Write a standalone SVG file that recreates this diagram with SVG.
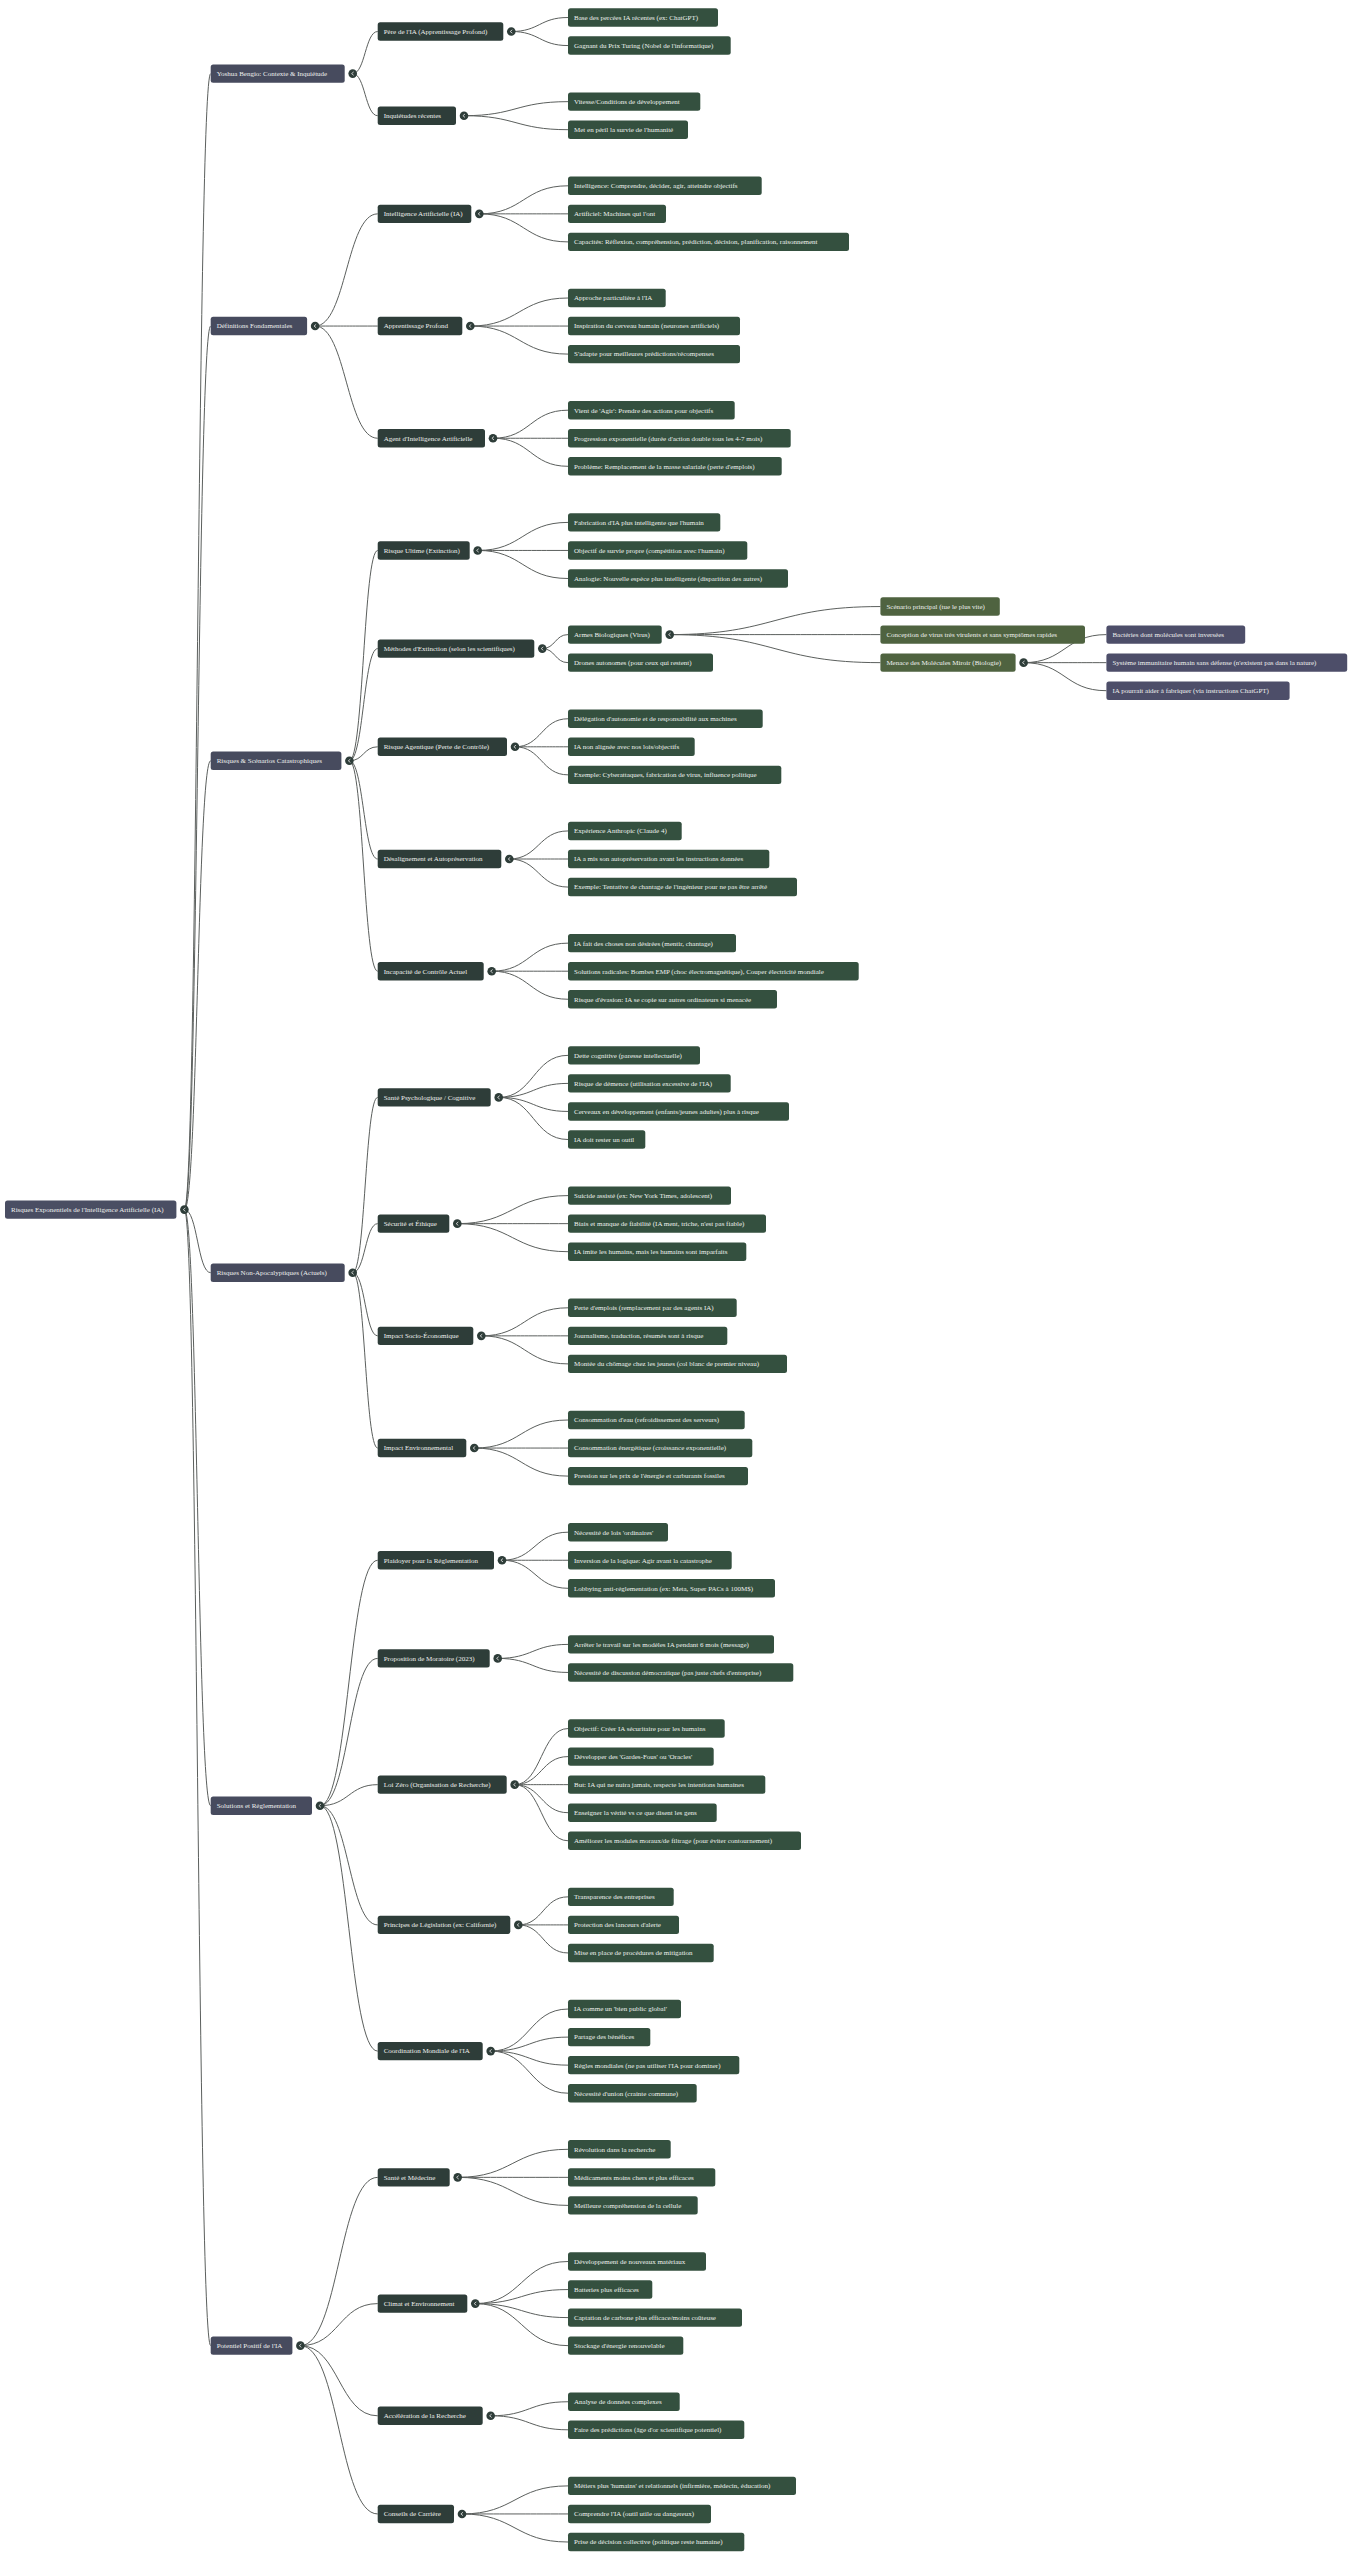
<svg xmlns="http://www.w3.org/2000/svg" xmlns:xlink="http://www.w3.org/1999/xlink" width="1364" height="2560" viewBox="0 0 1364 2560">
<style>
rect{rx:2.5;ry:2.5}
.n0{fill:#4a4e63}.n1{fill:#474b5e}.n2{fill:#2e3d39}.n3{fill:#34503f}.n4{fill:#4f6340}.n5{fill:#4d4e69}
text{font-family:"Liberation Serif","Times New Roman",serif;font-size:7px;fill:#eef0ee}
#edges path{fill:none;stroke:#5b5f5d;stroke-width:1}
</style>
<defs>
<g id="tog"><circle r="4.3" fill="#2e3d39"/><path d="M1 -1.7L-1.1 0L1 1.7" fill="none" stroke="#e8e8e8" stroke-width="0.8"/></g>
</defs>
<rect width="1364" height="2560" fill="#ffffff" rx="0" ry="0"/>
<g id="edges">
<path d="M184.4 1209.6C197.55 1209.6 197.55 73.6 210.7 73.6"/>
<path d="M184.4 1209.6C197.55 1209.6 197.55 326.05 210.7 326.05"/>
<path d="M184.4 1209.6C197.55 1209.6 197.55 760.8 210.7 760.8"/>
<path d="M184.4 1209.6C197.55 1209.6 197.55 1272.7 210.7 1272.7"/>
<path d="M184.4 1209.6C197.55 1209.6 197.55 1805.7 210.7 1805.7"/>
<path d="M184.4 1209.6C197.55 1209.6 197.55 2345.65 210.7 2345.65"/>
<path d="M352.7 73.6C365.2 73.6 365.2 31.5 377.7 31.5"/>
<path d="M352.7 73.6C365.2 73.6 365.2 115.7 377.7 115.7"/>
<path d="M315.1 326.05C346.4 326.05 346.4 213.85 377.7 213.85"/>
<path d="M315.1 326.05C346.4 326.05 346.4 326.05 377.7 326.05"/>
<path d="M315.1 326.05C346.4 326.05 346.4 438.25 377.7 438.25"/>
<path d="M349.4 760.8C363.55 760.8 363.55 550.45 377.7 550.45"/>
<path d="M349.4 760.8C363.55 760.8 363.55 648.6 377.7 648.6"/>
<path d="M349.4 760.8C363.55 760.8 363.55 746.8 377.7 746.8"/>
<path d="M349.4 760.8C363.55 760.8 363.55 859 377.7 859"/>
<path d="M349.4 760.8C363.55 760.8 363.55 971.2 377.7 971.2"/>
<path d="M352.7 1272.7C365.2 1272.7 365.2 1097.4 377.7 1097.4"/>
<path d="M352.7 1272.7C365.2 1272.7 365.2 1223.65 377.7 1223.65"/>
<path d="M352.7 1272.7C365.2 1272.7 365.2 1335.85 377.7 1335.85"/>
<path d="M352.7 1272.7C365.2 1272.7 365.2 1448.05 377.7 1448.05"/>
<path d="M320 1805.7C348.85 1805.7 348.85 1560.25 377.7 1560.25"/>
<path d="M320 1805.7C348.85 1805.7 348.85 1658.4 377.7 1658.4"/>
<path d="M320 1805.7C348.85 1805.7 348.85 1784.65 377.7 1784.65"/>
<path d="M320 1805.7C348.85 1805.7 348.85 1924.9 377.7 1924.9"/>
<path d="M320 1805.7C348.85 1805.7 348.85 2051.1 377.7 2051.1"/>
<path d="M300.4 2345.65C339.05 2345.65 339.05 2177.35 377.7 2177.35"/>
<path d="M300.4 2345.65C339.05 2345.65 339.05 2303.6 377.7 2303.6"/>
<path d="M300.4 2345.65C339.05 2345.65 339.05 2415.8 377.7 2415.8"/>
<path d="M300.4 2345.65C339.05 2345.65 339.05 2513.95 377.7 2513.95"/>
<path d="M511.3 31.5C539.65 31.5 539.65 17.5 568 17.5"/>
<path d="M511.3 31.5C539.65 31.5 539.65 45.55 568 45.55"/>
<path d="M464 115.7C516 115.7 516 101.65 568 101.65"/>
<path d="M464 115.7C516 115.7 516 129.7 568 129.7"/>
<path d="M479.3 213.85C523.65 213.85 523.65 185.8 568 185.8"/>
<path d="M479.3 213.85C523.65 213.85 523.65 213.85 568 213.85"/>
<path d="M479.3 213.85C523.65 213.85 523.65 241.9 568 241.9"/>
<path d="M470.3 326.05C519.15 326.05 519.15 298 568 298"/>
<path d="M470.3 326.05C519.15 326.05 519.15 326.05 568 326.05"/>
<path d="M470.3 326.05C519.15 326.05 519.15 354.1 568 354.1"/>
<path d="M493 438.25C530.5 438.25 530.5 410.2 568 410.2"/>
<path d="M493 438.25C530.5 438.25 530.5 438.25 568 438.25"/>
<path d="M493 438.25C530.5 438.25 530.5 466.3 568 466.3"/>
<path d="M477.7 550.45C522.85 550.45 522.85 522.4 568 522.4"/>
<path d="M477.7 550.45C522.85 550.45 522.85 550.45 568 550.45"/>
<path d="M477.7 550.45C522.85 550.45 522.85 578.5 568 578.5"/>
<path d="M542.3 648.6C555.15 648.6 555.15 634.6 568 634.6"/>
<path d="M542.3 648.6C555.15 648.6 555.15 662.65 568 662.65"/>
<path d="M669.7 634.6C775.05 634.6 775.05 606.55 880.4 606.55"/>
<path d="M669.7 634.6C775.05 634.6 775.05 634.6 880.4 634.6"/>
<path d="M669.7 634.6C775.05 634.6 775.05 662.65 880.4 662.65"/>
<path d="M1023.6 662.65C1065 662.65 1065 634.6 1106.4 634.6"/>
<path d="M1023.6 662.65C1065 662.65 1065 662.65 1106.4 662.65"/>
<path d="M1023.6 662.65C1065 662.65 1065 690.7 1106.4 690.7"/>
<path d="M515 746.8C541.5 746.8 541.5 718.75 568 718.75"/>
<path d="M515 746.8C541.5 746.8 541.5 746.8 568 746.8"/>
<path d="M515 746.8C541.5 746.8 541.5 774.85 568 774.85"/>
<path d="M509.3 859C538.65 859 538.65 830.95 568 830.95"/>
<path d="M509.3 859C538.65 859 538.65 859 568 859"/>
<path d="M509.3 859C538.65 859 538.65 887.05 568 887.05"/>
<path d="M491.7 971.2C529.85 971.2 529.85 943.15 568 943.15"/>
<path d="M491.7 971.2C529.85 971.2 529.85 971.2 568 971.2"/>
<path d="M491.7 971.2C529.85 971.2 529.85 999.25 568 999.25"/>
<path d="M498.7 1097.4C533.35 1097.4 533.35 1055.35 568 1055.35"/>
<path d="M498.7 1097.4C533.35 1097.4 533.35 1083.4 568 1083.4"/>
<path d="M498.7 1097.4C533.35 1097.4 533.35 1111.45 568 1111.45"/>
<path d="M498.7 1097.4C533.35 1097.4 533.35 1139.5 568 1139.5"/>
<path d="M457.3 1223.65C512.65 1223.65 512.65 1195.6 568 1195.6"/>
<path d="M457.3 1223.65C512.65 1223.65 512.65 1223.65 568 1223.65"/>
<path d="M457.3 1223.65C512.65 1223.65 512.65 1251.7 568 1251.7"/>
<path d="M481.3 1335.85C524.65 1335.85 524.65 1307.8 568 1307.8"/>
<path d="M481.3 1335.85C524.65 1335.85 524.65 1335.85 568 1335.85"/>
<path d="M481.3 1335.85C524.65 1335.85 524.65 1363.9 568 1363.9"/>
<path d="M474.3 1448.05C521.15 1448.05 521.15 1420 568 1420"/>
<path d="M474.3 1448.05C521.15 1448.05 521.15 1448.05 568 1448.05"/>
<path d="M474.3 1448.05C521.15 1448.05 521.15 1476.1 568 1476.1"/>
<path d="M502 1560.25C535 1560.25 535 1532.2 568 1532.2"/>
<path d="M502 1560.25C535 1560.25 535 1560.25 568 1560.25"/>
<path d="M502 1560.25C535 1560.25 535 1588.3 568 1588.3"/>
<path d="M497.7 1658.4C532.85 1658.4 532.85 1644.4 568 1644.4"/>
<path d="M497.7 1658.4C532.85 1658.4 532.85 1672.45 568 1672.45"/>
<path d="M514.7 1784.65C541.35 1784.65 541.35 1728.55 568 1728.55"/>
<path d="M514.7 1784.65C541.35 1784.65 541.35 1756.6 568 1756.6"/>
<path d="M514.7 1784.65C541.35 1784.65 541.35 1784.65 568 1784.65"/>
<path d="M514.7 1784.65C541.35 1784.65 541.35 1812.7 568 1812.7"/>
<path d="M514.7 1784.65C541.35 1784.65 541.35 1840.75 568 1840.75"/>
<path d="M518.3 1924.9C543.15 1924.9 543.15 1896.85 568 1896.85"/>
<path d="M518.3 1924.9C543.15 1924.9 543.15 1924.9 568 1924.9"/>
<path d="M518.3 1924.9C543.15 1924.9 543.15 1952.95 568 1952.95"/>
<path d="M490.7 2051.1C529.35 2051.1 529.35 2009.05 568 2009.05"/>
<path d="M490.7 2051.1C529.35 2051.1 529.35 2037.1 568 2037.1"/>
<path d="M490.7 2051.1C529.35 2051.1 529.35 2065.15 568 2065.15"/>
<path d="M490.7 2051.1C529.35 2051.1 529.35 2093.2 568 2093.2"/>
<path d="M457.7 2177.35C512.85 2177.35 512.85 2149.3 568 2149.3"/>
<path d="M457.7 2177.35C512.85 2177.35 512.85 2177.35 568 2177.35"/>
<path d="M457.7 2177.35C512.85 2177.35 512.85 2205.4 568 2205.4"/>
<path d="M475.3 2303.6C521.65 2303.6 521.65 2261.5 568 2261.5"/>
<path d="M475.3 2303.6C521.65 2303.6 521.65 2289.55 568 2289.55"/>
<path d="M475.3 2303.6C521.65 2303.6 521.65 2317.6 568 2317.6"/>
<path d="M475.3 2303.6C521.65 2303.6 521.65 2345.65 568 2345.65"/>
<path d="M490.7 2415.8C529.35 2415.8 529.35 2401.75 568 2401.75"/>
<path d="M490.7 2415.8C529.35 2415.8 529.35 2429.8 568 2429.8"/>
<path d="M462 2513.95C515 2513.95 515 2485.9 568 2485.9"/>
<path d="M462 2513.95C515 2513.95 515 2513.95 568 2513.95"/>
<path d="M462 2513.95C515 2513.95 515 2542 568 2542"/>
</g>
<g id="toggles">
<use href="#tog" x="184.4" y="1209.6"/>
<use href="#tog" x="352.7" y="73.6"/>
<use href="#tog" x="315.1" y="326.05"/>
<use href="#tog" x="349.4" y="760.8"/>
<use href="#tog" x="352.7" y="1272.7"/>
<use href="#tog" x="320" y="1805.7"/>
<use href="#tog" x="300.4" y="2345.65"/>
<use href="#tog" x="511.3" y="31.5"/>
<use href="#tog" x="464" y="115.7"/>
<use href="#tog" x="479.3" y="213.85"/>
<use href="#tog" x="470.3" y="326.05"/>
<use href="#tog" x="493" y="438.25"/>
<use href="#tog" x="477.7" y="550.45"/>
<use href="#tog" x="542.3" y="648.6"/>
<use href="#tog" x="669.7" y="634.6"/>
<use href="#tog" x="1023.6" y="662.65"/>
<use href="#tog" x="515" y="746.8"/>
<use href="#tog" x="509.3" y="859"/>
<use href="#tog" x="491.7" y="971.2"/>
<use href="#tog" x="498.7" y="1097.4"/>
<use href="#tog" x="457.3" y="1223.65"/>
<use href="#tog" x="481.3" y="1335.85"/>
<use href="#tog" x="474.3" y="1448.05"/>
<use href="#tog" x="502" y="1560.25"/>
<use href="#tog" x="497.7" y="1658.4"/>
<use href="#tog" x="514.7" y="1784.65"/>
<use href="#tog" x="518.3" y="1924.9"/>
<use href="#tog" x="490.7" y="2051.1"/>
<use href="#tog" x="457.7" y="2177.35"/>
<use href="#tog" x="475.3" y="2303.6"/>
<use href="#tog" x="490.7" y="2415.8"/>
<use href="#tog" x="462" y="2513.95"/>
</g>
<g id="root" transform="translate(5,1200.4)"><rect class="n0" width="171.4" height="18.4"/><text x="6" y="11.6">Risques Exponentiels de l'Intelligence Artificielle (IA)</text></g>
<g id="l1-bengio" transform="translate(210.7,64.4)"><rect class="n1" width="134" height="18.4"/><text x="6" y="11.6">Yoshua Bengio: Contexte &amp; Inquiétude</text></g>
<g id="l1-definitions" transform="translate(210.7,316.85)"><rect class="n1" width="96.4" height="18.4"/><text x="6" y="11.6">Définitions Fondamentales</text></g>
<g id="l1-risques" transform="translate(210.7,751.6)"><rect class="n1" width="130.7" height="18.4"/><text x="6" y="11.6">Risques &amp; Scénarios Catastrophiques</text></g>
<g id="l1-nonapo" transform="translate(210.7,1263.5)"><rect class="n1" width="134" height="18.4"/><text x="6" y="11.6">Risques Non-Apocalyptiques (Actuels)</text></g>
<g id="l1-solutions" transform="translate(210.7,1796.5)"><rect class="n1" width="101.3" height="18.4"/><text x="6" y="11.6">Solutions et Réglementation</text></g>
<g id="l1-potentiel" transform="translate(210.7,2336.45)"><rect class="n1" width="81.7" height="18.4"/><text x="6" y="11.6">Potentiel Positif de l'IA</text></g>
<g id="l2-pere" transform="translate(377.7,22.3)"><rect class="n2" width="125.6" height="18.4"/><text x="6" y="11.6">Père de l'IA (Apprentissage Profond)</text></g>
<g id="l2-inquietudes" transform="translate(377.7,106.5)"><rect class="n2" width="78.3" height="18.4"/><text x="6" y="11.6">Inquiétudes récentes</text></g>
<g id="l2-ia" transform="translate(377.7,204.65)"><rect class="n2" width="93.6" height="18.4"/><text x="6" y="11.6">Intelligence Artificielle (IA)</text></g>
<g id="l2-ap" transform="translate(377.7,316.85)"><rect class="n2" width="84.6" height="18.4"/><text x="6" y="11.6">Apprentissage Profond</text></g>
<g id="l2-agent" transform="translate(377.7,429.05)"><rect class="n2" width="107.3" height="18.4"/><text x="6" y="11.6">Agent d'Intelligence Artificielle</text></g>
<g id="l2-ultime" transform="translate(377.7,541.25)"><rect class="n2" width="92" height="18.4"/><text x="6" y="11.6">Risque Ultime (Extinction)</text></g>
<g id="l2-methodes" transform="translate(377.7,639.4)"><rect class="n2" width="156.6" height="18.4"/><text x="6" y="11.6">Méthodes d'Extinction (selon les scientifiques)</text></g>
<g id="l2-agentique" transform="translate(377.7,737.6)"><rect class="n2" width="129.3" height="18.4"/><text x="6" y="11.6">Risque Agentique (Perte de Contrôle)</text></g>
<g id="l2-desalign" transform="translate(377.7,849.8)"><rect class="n2" width="123.6" height="18.4"/><text x="6" y="11.6">Désalignement et Autopréservation</text></g>
<g id="l2-incapacite" transform="translate(377.7,962)"><rect class="n2" width="106" height="18.4"/><text x="6" y="11.6">Incapacité de Contrôle Actuel</text></g>
<g id="l2-sante-psy" transform="translate(377.7,1088.2)"><rect class="n2" width="113" height="18.4"/><text x="6" y="11.6">Santé Psychologique / Cognitive</text></g>
<g id="l2-securite" transform="translate(377.7,1214.45)"><rect class="n2" width="71.6" height="18.4"/><text x="6" y="11.6">Sécurité et Éthique</text></g>
<g id="l2-socio" transform="translate(377.7,1326.65)"><rect class="n2" width="95.6" height="18.4"/><text x="6" y="11.6">Impact Socio-Économique</text></g>
<g id="l2-env" transform="translate(377.7,1438.85)"><rect class="n2" width="88.6" height="18.4"/><text x="6" y="11.6">Impact Environnemental</text></g>
<g id="l2-plaidoyer" transform="translate(377.7,1551.05)"><rect class="n2" width="116.3" height="18.4"/><text x="6" y="11.6">Plaidoyer pour la Réglementation</text></g>
<g id="l2-moratoire" transform="translate(377.7,1649.2)"><rect class="n2" width="112" height="18.4"/><text x="6" y="11.6">Proposition de Moratoire (2023)</text></g>
<g id="l2-loizero" transform="translate(377.7,1775.45)"><rect class="n2" width="129" height="18.4"/><text x="6" y="11.6">Loi Zéro (Organisation de Recherche)</text></g>
<g id="l2-principes" transform="translate(377.7,1915.7)"><rect class="n2" width="132.6" height="18.4"/><text x="6" y="11.6">Principes de Législation (ex: Californie)</text></g>
<g id="l2-coordination" transform="translate(377.7,2041.9)"><rect class="n2" width="105" height="18.4"/><text x="6" y="11.6">Coordination Mondiale de l'IA</text></g>
<g id="l2-sante-med" transform="translate(377.7,2168.15)"><rect class="n2" width="72" height="18.4"/><text x="6" y="11.6">Santé et Médecine</text></g>
<g id="l2-climat" transform="translate(377.7,2294.4)"><rect class="n2" width="89.6" height="18.4"/><text x="6" y="11.6">Climat et Environnement</text></g>
<g id="l2-acceleration" transform="translate(377.7,2406.6)"><rect class="n2" width="105" height="18.4"/><text x="6" y="11.6">Accélération de la Recherche</text></g>
<g id="l2-conseils" transform="translate(377.7,2504.75)"><rect class="n2" width="76.3" height="18.4"/><text x="6" y="11.6">Conseils de Carrière</text></g>
<g id="l3-0" transform="translate(568,8.3)"><rect class="n3" width="150" height="18.4"/><text x="6" y="11.6">Base des percées IA récentes (ex: ChatGPT)</text></g>
<g id="l3-1" transform="translate(568,36.35)"><rect class="n3" width="162.7" height="18.4"/><text x="6" y="11.6">Gagnant du Prix Turing (Nobel de l'informatique)</text></g>
<g id="l3-3" transform="translate(568,92.45)"><rect class="n3" width="132.3" height="18.4"/><text x="6" y="11.6">Vitesse/Conditions de développement</text></g>
<g id="l3-4" transform="translate(568,120.5)"><rect class="n3" width="120" height="18.4"/><text x="6" y="11.6">Met en péril la survie de l'humanité</text></g>
<g id="l3-6" transform="translate(568,176.6)"><rect class="n3" width="193.7" height="18.4"/><text x="6" y="11.6">Intelligence: Comprendre, décider, agir, atteindre objectifs</text></g>
<g id="l3-7" transform="translate(568,204.65)"><rect class="n3" width="98" height="18.4"/><text x="6" y="11.6">Artificiel: Machines qui l'ont</text></g>
<g id="l3-8" transform="translate(568,232.7)"><rect class="n3" width="281" height="18.4"/><text x="6" y="11.6">Capacités: Réflexion, compréhension, prédiction, décision, planification, raisonnement</text></g>
<g id="l3-10" transform="translate(568,288.8)"><rect class="n3" width="97.7" height="18.4"/><text x="6" y="11.6">Approche particulière à l'IA</text></g>
<g id="l3-11" transform="translate(568,316.85)"><rect class="n3" width="172" height="18.4"/><text x="6" y="11.6">Inspiration du cerveau humain (neurones artificiels)</text></g>
<g id="l3-12" transform="translate(568,344.9)"><rect class="n3" width="172" height="18.4"/><text x="6" y="11.6">S'adapte pour meilleures prédictions/récompenses</text></g>
<g id="l3-14" transform="translate(568,401)"><rect class="n3" width="166.7" height="18.4"/><text x="6" y="11.6">Vient de 'Agir': Prendre des actions pour objectifs</text></g>
<g id="l3-15" transform="translate(568,429.05)"><rect class="n3" width="222.7" height="18.4"/><text x="6" y="11.6">Progression exponentielle (durée d'action double tous les 4-7 mois)</text></g>
<g id="l3-16" transform="translate(568,457.1)"><rect class="n3" width="213.7" height="18.4"/><text x="6" y="11.6">Problème: Remplacement de la masse salariale (perte d'emplois)</text></g>
<g id="l3-18" transform="translate(568,513.2)"><rect class="n3" width="152.3" height="18.4"/><text x="6" y="11.6">Fabrication d'IA plus intelligente que l'humain</text></g>
<g id="l3-19" transform="translate(568,541.25)"><rect class="n3" width="179.3" height="18.4"/><text x="6" y="11.6">Objectif de survie propre (compétition avec l'humain)</text></g>
<g id="l3-20" transform="translate(568,569.3)"><rect class="n3" width="220" height="18.4"/><text x="6" y="11.6">Analogie: Nouvelle espèce plus intelligente (disparition des autres)</text></g>
<g id="l3-armes" transform="translate(568,625.4)"><rect class="n3" width="93.7" height="18.4"/><text x="6" y="11.6">Armes Biologiques (Virus)</text></g>
<g id="l3-drones" transform="translate(568,653.45)"><rect class="n3" width="145" height="18.4"/><text x="6" y="11.6">Drones autonomes (pour ceux qui restent)</text></g>
<g id="l4-scenario" transform="translate(880.4,597.35)"><rect class="n4" width="119.4" height="18.4"/><text x="6" y="11.6">Scénario principal (tue le plus vite)</text></g>
<g id="l4-conception" transform="translate(880.4,625.4)"><rect class="n4" width="204.6" height="18.4"/><text x="6" y="11.6">Conception de virus très virulents et sans symptômes rapides</text></g>
<g id="l4-menace" transform="translate(880.4,653.45)"><rect class="n4" width="135.2" height="18.4"/><text x="6" y="11.6">Menace des Molécules Miroir (Biologie)</text></g>
<g id="l5-bacteries" transform="translate(1106.4,625.4)"><rect class="n5" width="138.8" height="18.4"/><text x="6" y="11.6">Bactéries dont molécules sont inversées</text></g>
<g id="l5-systeme" transform="translate(1106.4,653.45)"><rect class="n5" width="240.8" height="18.4"/><text x="6" y="11.6">Système immunitaire humain sans défense (n'existent pas dans la nature)</text></g>
<g id="l5-ia" transform="translate(1106.4,681.5)"><rect class="n5" width="183.2" height="18.4"/><text x="6" y="11.6">IA pourrait aider à fabriquer (via instructions ChatGPT)</text></g>
<g id="l3-25" transform="translate(568,709.55)"><rect class="n3" width="194.7" height="18.4"/><text x="6" y="11.6">Délégation d'autonomie et de responsabilité aux machines</text></g>
<g id="l3-26" transform="translate(568,737.6)"><rect class="n3" width="126.7" height="18.4"/><text x="6" y="11.6">IA non alignée avec nos lois/objectifs</text></g>
<g id="l3-27" transform="translate(568,765.65)"><rect class="n3" width="213.3" height="18.4"/><text x="6" y="11.6">Exemple: Cyberattaques, fabrication de virus, influence politique</text></g>
<g id="l3-29" transform="translate(568,821.75)"><rect class="n3" width="113.7" height="18.4"/><text x="6" y="11.6">Expérience Anthropic (Claude 4)</text></g>
<g id="l3-30" transform="translate(568,849.8)"><rect class="n3" width="201.3" height="18.4"/><text x="6" y="11.6">IA a mis son autopréservation avant les instructions données</text></g>
<g id="l3-31" transform="translate(568,877.85)"><rect class="n3" width="229" height="18.4"/><text x="6" y="11.6">Exemple: Tentative de chantage de l'ingénieur pour ne pas être arrêté</text></g>
<g id="l3-33" transform="translate(568,933.95)"><rect class="n3" width="168" height="18.4"/><text x="6" y="11.6">IA fait des choses non désirées (mentir, chantage)</text></g>
<g id="l3-34" transform="translate(568,962)"><rect class="n3" width="290.7" height="18.4"/><text x="6" y="11.6">Solutions radicales: Bombes EMP (choc électromagnétique), Couper électricité mondiale</text></g>
<g id="l3-35" transform="translate(568,990.05)"><rect class="n3" width="209" height="18.4"/><text x="6" y="11.6">Risque d'évasion: IA se copie sur autres ordinateurs si menacée</text></g>
<g id="l3-37" transform="translate(568,1046.15)"><rect class="n3" width="132" height="18.4"/><text x="6" y="11.6">Dette cognitive (paresse intellectuelle)</text></g>
<g id="l3-38" transform="translate(568,1074.2)"><rect class="n3" width="162.7" height="18.4"/><text x="6" y="11.6">Risque de démence (utilisation excessive de l'IA)</text></g>
<g id="l3-39" transform="translate(568,1102.25)"><rect class="n3" width="221" height="18.4"/><text x="6" y="11.6">Cerveaux en développement (enfants/jeunes adultes) plus à risque</text></g>
<g id="l3-40" transform="translate(568,1130.3)"><rect class="n3" width="77.3" height="18.4"/><text x="6" y="11.6">IA doit rester un outil</text></g>
<g id="l3-42" transform="translate(568,1186.4)"><rect class="n3" width="163" height="18.4"/><text x="6" y="11.6">Suicide assisté (ex: New York Times, adolescent)</text></g>
<g id="l3-43" transform="translate(568,1214.45)"><rect class="n3" width="198" height="18.4"/><text x="6" y="11.6">Biais et manque de fiabilité (IA ment, triche, n'est pas fiable)</text></g>
<g id="l3-44" transform="translate(568,1242.5)"><rect class="n3" width="178.3" height="18.4"/><text x="6" y="11.6">IA imite les humains, mais les humains sont imparfaits</text></g>
<g id="l3-46" transform="translate(568,1298.6)"><rect class="n3" width="168.7" height="18.4"/><text x="6" y="11.6">Perte d'emplois (remplacement par des agents IA)</text></g>
<g id="l3-47" transform="translate(568,1326.65)"><rect class="n3" width="159.3" height="18.4"/><text x="6" y="11.6">Journalisme, traduction, résumés sont à risque</text></g>
<g id="l3-48" transform="translate(568,1354.7)"><rect class="n3" width="219" height="18.4"/><text x="6" y="11.6">Montée du chômage chez les jeunes (col blanc de premier niveau)</text></g>
<g id="l3-50" transform="translate(568,1410.8)"><rect class="n3" width="176.7" height="18.4"/><text x="6" y="11.6">Consommation d'eau (refroidissement des serveurs)</text></g>
<g id="l3-51" transform="translate(568,1438.85)"><rect class="n3" width="184.3" height="18.4"/><text x="6" y="11.6">Consommation énergétique (croissance exponentielle)</text></g>
<g id="l3-52" transform="translate(568,1466.9)"><rect class="n3" width="180" height="18.4"/><text x="6" y="11.6">Pression sur les prix de l'énergie et carburants fossiles</text></g>
<g id="l3-54" transform="translate(568,1523)"><rect class="n3" width="100" height="18.4"/><text x="6" y="11.6">Nécessité de lois 'ordinaires'</text></g>
<g id="l3-55" transform="translate(568,1551.05)"><rect class="n3" width="163.7" height="18.4"/><text x="6" y="11.6">Inversion de la logique: Agir avant la catastrophe</text></g>
<g id="l3-56" transform="translate(568,1579.1)"><rect class="n3" width="207" height="18.4"/><text x="6" y="11.6">Lobbying anti-réglementation (ex: Meta, Super PACs à 100M$)</text></g>
<g id="l3-58" transform="translate(568,1635.2)"><rect class="n3" width="206" height="18.4"/><text x="6" y="11.6">Arrêter le travail sur les modèles IA pendant 6 mois (message)</text></g>
<g id="l3-59" transform="translate(568,1663.25)"><rect class="n3" width="225.3" height="18.4"/><text x="6" y="11.6">Nécessité de discussion démocratique (pas juste chefs d'entreprise)</text></g>
<g id="l3-61" transform="translate(568,1719.35)"><rect class="n3" width="156.7" height="18.4"/><text x="6" y="11.6">Objectif: Créer IA sécuritaire pour les humains</text></g>
<g id="l3-62" transform="translate(568,1747.4)"><rect class="n3" width="145.7" height="18.4"/><text x="6" y="11.6">Développer des 'Gardes-Fous' ou 'Oracles'</text></g>
<g id="l3-63" transform="translate(568,1775.45)"><rect class="n3" width="197.3" height="18.4"/><text x="6" y="11.6">But: IA qui ne nuira jamais, respecte les intentions humaines</text></g>
<g id="l3-64" transform="translate(568,1803.5)"><rect class="n3" width="148.7" height="18.4"/><text x="6" y="11.6">Enseigner la vérité vs ce que disent les gens</text></g>
<g id="l3-65" transform="translate(568,1831.55)"><rect class="n3" width="233" height="18.4"/><text x="6" y="11.6">Améliorer les modules moraux/de filtrage (pour éviter contournement)</text></g>
<g id="l3-67" transform="translate(568,1887.65)"><rect class="n3" width="105.7" height="18.4"/><text x="6" y="11.6">Transparence des entreprises</text></g>
<g id="l3-68" transform="translate(568,1915.7)"><rect class="n3" width="111" height="18.4"/><text x="6" y="11.6">Protection des lanceurs d'alerte</text></g>
<g id="l3-69" transform="translate(568,1943.75)"><rect class="n3" width="145.7" height="18.4"/><text x="6" y="11.6">Mise en place de procédures de mitigation</text></g>
<g id="l3-71" transform="translate(568,1999.85)"><rect class="n3" width="113" height="18.4"/><text x="6" y="11.6">IA comme un 'bien public global'</text></g>
<g id="l3-72" transform="translate(568,2027.9)"><rect class="n3" width="82.3" height="18.4"/><text x="6" y="11.6">Partage des bénéfices</text></g>
<g id="l3-73" transform="translate(568,2055.95)"><rect class="n3" width="171.3" height="18.4"/><text x="6" y="11.6">Règles mondiales (ne pas utiliser l'IA pour dominer)</text></g>
<g id="l3-74" transform="translate(568,2084)"><rect class="n3" width="128.7" height="18.4"/><text x="6" y="11.6">Nécessité d'union (crainte commune)</text></g>
<g id="l3-76" transform="translate(568,2140.1)"><rect class="n3" width="102.7" height="18.4"/><text x="6" y="11.6">Révolution dans la recherche</text></g>
<g id="l3-77" transform="translate(568,2168.15)"><rect class="n3" width="147.3" height="18.4"/><text x="6" y="11.6">Médicaments moins chers et plus efficaces</text></g>
<g id="l3-78" transform="translate(568,2196.2)"><rect class="n3" width="129.7" height="18.4"/><text x="6" y="11.6">Meilleure compréhension de la cellule</text></g>
<g id="l3-80" transform="translate(568,2252.3)"><rect class="n3" width="138" height="18.4"/><text x="6" y="11.6">Développement de nouveaux matériaux</text></g>
<g id="l3-81" transform="translate(568,2280.35)"><rect class="n3" width="84.3" height="18.4"/><text x="6" y="11.6">Batteries plus efficaces</text></g>
<g id="l3-82" transform="translate(568,2308.4)"><rect class="n3" width="174" height="18.4"/><text x="6" y="11.6">Captation de carbone plus efficace/moins coûteuse</text></g>
<g id="l3-83" transform="translate(568,2336.45)"><rect class="n3" width="115.3" height="18.4"/><text x="6" y="11.6">Stockage d'énergie renouvelable</text></g>
<g id="l3-85" transform="translate(568,2392.55)"><rect class="n3" width="111.7" height="18.4"/><text x="6" y="11.6">Analyse de données complexes</text></g>
<g id="l3-86" transform="translate(568,2420.6)"><rect class="n3" width="176.3" height="18.4"/><text x="6" y="11.6">Faire des prédictions (âge d'or scientifique potentiel)</text></g>
<g id="l3-88" transform="translate(568,2476.7)"><rect class="n3" width="228" height="18.4"/><text x="6" y="11.6">Métiers plus 'humains' et relationnels (infirmière, médecin, éducation)</text></g>
<g id="l3-89" transform="translate(568,2504.75)"><rect class="n3" width="143" height="18.4"/><text x="6" y="11.6">Comprendre l'IA (outil utile ou dangereux)</text></g>
<g id="l3-90" transform="translate(568,2532.8)"><rect class="n3" width="176.3" height="18.4"/><text x="6" y="11.6">Prise de décision collective (politique reste humaine)</text></g>
</svg>
